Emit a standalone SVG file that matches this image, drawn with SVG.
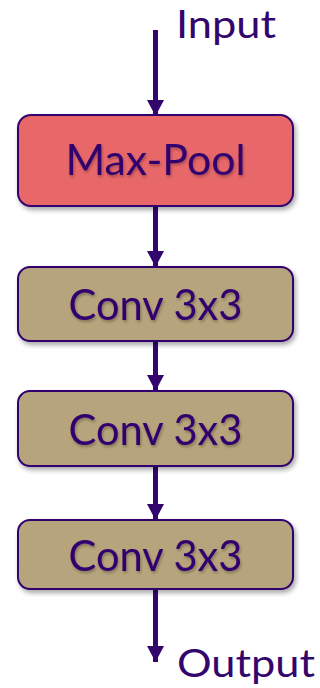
<svg xmlns="http://www.w3.org/2000/svg" width="320" height="688" viewBox="0 0 320 688">
  <defs>
    <filter id="shadow" x="-10%" y="-20%" width="125%" height="150%">
      <feGaussianBlur in="SourceAlpha" stdDeviation="2.5"/>
      <feOffset dx="2" dy="3" result="b"/>
      <feComponentTransfer><feFuncA type="linear" slope="0.35"/></feComponentTransfer>
      <feMerge><feMergeNode/><feMergeNode in="SourceGraphic"/></feMerge>
    </filter>
    <filter id="tshadow" x="-10%" y="-20%" width="125%" height="150%">
      <feGaussianBlur in="SourceAlpha" stdDeviation="1.5"/>
      <feOffset dx="1" dy="2" result="b"/>
      <feComponentTransfer><feFuncA type="linear" slope="0.3"/></feComponentTransfer>
      <feMerge><feMergeNode/><feMergeNode in="SourceGraphic"/></feMerge>
    </filter>
    <marker id="head" markerUnits="userSpaceOnUse" markerWidth="18" markerHeight="17" refX="16" refY="8.5" orient="auto">
      <path d="M0,0 L16,8.5 L0,17 Z" fill="#33066e"/>
    </marker>
  </defs>
  <style>
    .box { stroke: #33066e; stroke-width: 2; filter: url(#shadow); }
    .pool { fill: #e8686b; }
    .conv { fill: #b6a57c; }
    .lbl { font-family: Lato, "Open Sans", sans-serif; fill: #33066e; text-anchor: middle; filter: url(#tshadow); }
    .io { font-family: Lato, "Open Sans", sans-serif; fill: #33066e; }
    .edge { stroke: #33066e; stroke-width: 5; fill: none; marker-end: url(#head); }
  </style>

  <g id="connectors">
    <line class="edge" x1="155.5" y1="30" x2="155.5" y2="116"/>
    <line class="edge" x1="155.5" y1="206" x2="155.5" y2="267"/>
    <line class="edge" x1="155.5" y1="341" x2="155.5" y2="391"/>
    <line class="edge" x1="155.5" y1="466" x2="155.5" y2="520"/>
    <line class="edge" x1="155.5" y1="589" x2="155.5" y2="662"/>
  </g>

  <g id="input">
    <text class="io" x="176" y="38" font-size="38" textLength="100" lengthAdjust="spacingAndGlyphs">Input</text>
  </g>

  <g id="maxpool">
    <rect class="box pool" x="18" y="115" width="275" height="91" rx="13"/>
    <text class="lbl" x="155.5" y="175" font-size="43" textLength="180" lengthAdjust="spacingAndGlyphs">Max-Pool</text>
  </g>

  <g id="conv1">
    <rect class="box conv" x="18" y="267" width="275" height="74" rx="12"/>
    <text class="lbl" x="155.5" y="320" font-size="42" textLength="174" lengthAdjust="spacingAndGlyphs">Conv 3x3</text>
  </g>

  <g id="conv2">
    <rect class="box conv" x="18" y="391" width="275" height="75" rx="12"/>
    <text class="lbl" x="155.5" y="445" font-size="42" textLength="174" lengthAdjust="spacingAndGlyphs">Conv 3x3</text>
  </g>

  <g id="conv3">
    <rect class="box conv" x="18" y="520" width="275" height="69" rx="12"/>
    <text class="lbl" x="155.5" y="571" font-size="42" textLength="174" lengthAdjust="spacingAndGlyphs">Conv 3x3</text>
  </g>

  <g id="output">
    <text class="io" x="177" y="677" font-size="39" textLength="138" lengthAdjust="spacingAndGlyphs">Output</text>
  </g>
</svg>
